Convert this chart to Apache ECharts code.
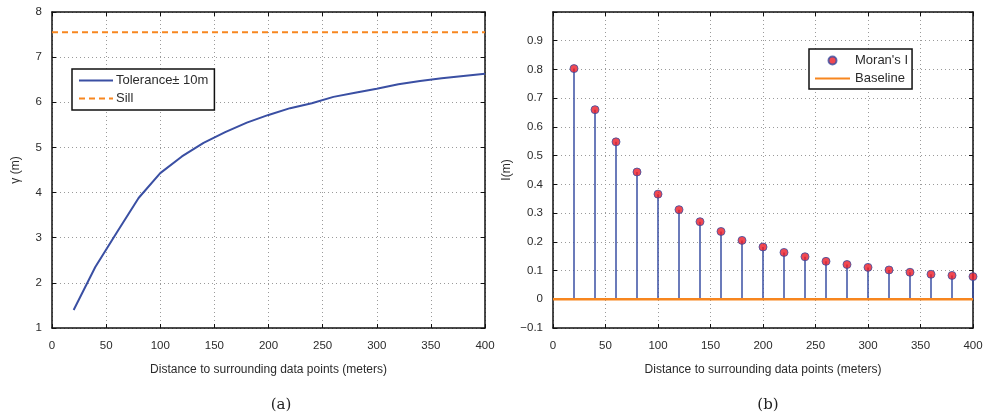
<!DOCTYPE html>
<html>
<head>
<meta charset="utf-8">
<script src="https://cdn.jsdelivr.net/npm/echarts@6/dist/echarts.min.js"></script>
<style>
  html, body { margin: 0; padding: 0; background: #fff; }
  #chart { width: 987px; height: 418px; }
</style>
</head>
<body>
<div id="chart"></div>
<script>
// Lag distances (m) shared by both panels
const distances = [20, 40, 60, 80, 100, 120, 140, 160, 180, 200, 220, 240, 260, 280, 300, 320, 340, 360, 380, 400];
// (a) experimental semivariogram
const gammaValues = [1.40, 2.35, 3.12, 3.88, 4.43, 4.80, 5.10, 5.34, 5.55, 5.72, 5.87, 5.98, 6.12, 6.21, 6.30, 6.40, 6.47, 6.53, 6.58, 6.63];
const sillValue = 7.55;
// (b) Moran's I correlogram
const moranValues = [0.803, 0.660, 0.548, 0.443, 0.366, 0.312, 0.270, 0.236, 0.205, 0.182, 0.163, 0.148, 0.132, 0.121, 0.111, 0.102, 0.094, 0.087, 0.083, 0.079];
const baselineValue = 0;
const xRange = [0, 400];
const gammaTicks = [1, 2, 3, 4, 5, 6, 7, 8];
const moranTicks = [-0.1, 0, 0.1, 0.2, 0.3, 0.4, 0.5, 0.6, 0.7, 0.8, 0.9];

const BLUE = '#3a4fa3';
const ORANGE = '#f7861f';
const RED = '#ee1c25';
const TEXT = '#2b2b2b';
const FONT = '"Liberation Sans", Arial, sans-serif';

// legend glyphs: a plain stroke and a dashed stroke
const SOLID_ICON = 'path://M0,0H34V2H0Z';
const DASHED_ICON = 'path://M0,0H6V2H0Z M10,0H16V2H10Z M20,0H26V2H20Z M30,0H34V2H30Z';

const chart = echarts.init(document.getElementById('chart'));

function frameAxis(gridIndex, position, extra) {
  return Object.assign({
    type: 'value',
    gridIndex: gridIndex,
    position: position,
    axisLine: { show: true, onZero: false, lineStyle: { color: '#111', width: 1.5 } },
    axisTick: { show: true, inside: true, length: 4, lineStyle: { color: '#111', width: 1 } },
    axisLabel: { show: false },
    splitLine: { show: false }
  }, extra);
}

const gridLine = { show: true, lineStyle: { color: '#9a9a9a', type: [1, 3], width: 1 } };
const tickLabel = { color: TEXT, fontSize: 11.5, fontFamily: FONT };
const axisName = { color: TEXT, fontSize: 12, fontFamily: FONT };

const xCommon = { min: xRange[0], max: xRange[1], interval: 50 };
const gammaCommon = { min: gammaTicks[0], max: gammaTicks[gammaTicks.length - 1], interval: 1 };
const moranCommon = { min: moranTicks[0], max: 1, interval: 0.1 };

function fmtMoran(v) {
  const r = Math.round(v * 10) / 10;
  if (r >= 1) return '';
  return String(r).replace('-', '\u2212');
}

const option = {
  animation: false,
  backgroundColor: '#fff',
  title: [
    { text: '(a)', left: 276, top: 393, textAlign: 'center',
      textStyle: { fontFamily: '"DejaVu Serif", "Liberation Serif", serif', fontWeight: 'normal', fontSize: 15, color: '#222' } },
    { text: '(b)', left: 763, top: 393, textAlign: 'center',
      textStyle: { fontFamily: '"DejaVu Serif", "Liberation Serif", serif', fontWeight: 'normal', fontSize: 15, color: '#222' } }
  ],
  grid: [
    { left: 52, right: 502, top: 12, bottom: 90 },
    { left: 553, right: 14, top: 12, bottom: 90 }
  ],
  legend: [
    {
      data: [
        { name: 'Tolerance\u00b1 10m', icon: SOLID_ICON },
        { name: 'Sill', icon: DASHED_ICON }
      ],
      orient: 'vertical',
      left: 72, top: 69,
      padding: [5, 6, 5, 7],
      itemGap: 5,
      itemWidth: 34, itemHeight: 12,
      backgroundColor: '#fff',
      borderColor: '#111', borderWidth: 1.5, borderRadius: 0,
      textStyle: { color: TEXT, fontSize: 13, fontFamily: FONT, padding: [0, 0, 0, -2] }
    },
    {
      data: [
        { name: "Moran's I", icon: 'circle' },
        { name: 'Baseline', icon: SOLID_ICON }
      ],
      orient: 'vertical',
      left: 809, top: 49,
      padding: [5, 4, 4, 6],
      itemGap: 5,
      itemWidth: 35, itemHeight: 8,
      backgroundColor: '#fff',
      borderColor: '#111', borderWidth: 1.5, borderRadius: 0,
      textStyle: { color: TEXT, fontSize: 13, fontFamily: FONT }
    }
  ],
  xAxis: [
    frameAxis(0, 'bottom', Object.assign({}, xCommon, {
      axisLabel: Object.assign({ show: true, margin: 12 }, tickLabel),
      splitLine: gridLine,
      name: 'Distance to surrounding data points (meters)',
      nameLocation: 'middle', nameGap: 36, nameTextStyle: axisName
    })),
    frameAxis(0, 'top', xCommon),
    frameAxis(1, 'bottom', Object.assign({}, xCommon, {
      axisLabel: Object.assign({ show: true, margin: 12 }, tickLabel),
      splitLine: gridLine,
      name: 'Distance to surrounding data points (meters)',
      nameLocation: 'middle', nameGap: 36, nameTextStyle: axisName
    })),
    frameAxis(1, 'top', xCommon)
  ],
  yAxis: [
    frameAxis(0, 'left', Object.assign({}, gammaCommon, {
      axisLabel: Object.assign({ show: true, margin: 10 }, tickLabel),
      splitLine: gridLine,
      name: '\u03b3 (m)', nameLocation: 'middle', nameGap: 30, nameTextStyle: axisName
    })),
    frameAxis(0, 'right', gammaCommon),
    frameAxis(1, 'left', Object.assign({}, moranCommon, {
      axisLabel: Object.assign({ show: true, margin: 10, formatter: fmtMoran }, tickLabel),
      splitLine: gridLine,
      name: 'I(m)', nameLocation: 'middle', nameGap: 40, nameTextStyle: axisName
    })),
    frameAxis(1, 'right', moranCommon)
  ],
  series: [
    {
      name: 'Tolerance\u00b1 10m',
      type: 'line',
      xAxisIndex: 0, yAxisIndex: 0,
      data: distances.map((d, i) => [d, gammaValues[i]]),
      symbol: 'none',
      lineStyle: { color: BLUE, width: 2 },
      itemStyle: { color: BLUE }
    },
    {
      name: 'Sill',
      type: 'line',
      xAxisIndex: 0, yAxisIndex: 0,
      data: xRange.map(x => [x, sillValue]),
      symbol: 'none',
      lineStyle: { color: ORANGE, width: 2, type: [6, 4] },
      itemStyle: { color: ORANGE }
    },
    {
      name: 'stems',
      type: 'bar',
      xAxisIndex: 2, yAxisIndex: 2,
      data: distances.map((d, i) => [d, moranValues[i]]),
      barWidth: 1.5,
      itemStyle: { color: BLUE },
      z: 2
    },
    {
      name: 'Baseline',
      type: 'line',
      xAxisIndex: 2, yAxisIndex: 2,
      data: xRange.map(x => [x, baselineValue]),
      symbol: 'none',
      lineStyle: { color: ORANGE, width: 2.5 },
      itemStyle: { color: ORANGE },
      z: 3
    },
    {
      name: "Moran's I",
      type: 'scatter',
      xAxisIndex: 2, yAxisIndex: 2,
      data: distances.map((d, i) => [d, moranValues[i]]),
      symbol: 'circle',
      symbolSize: 8,
      itemStyle: { color: RED, borderColor: BLUE, borderWidth: 1 },
      z: 4
    }
  ]
};

chart.setOption(option);
</script>
</body>
</html>
